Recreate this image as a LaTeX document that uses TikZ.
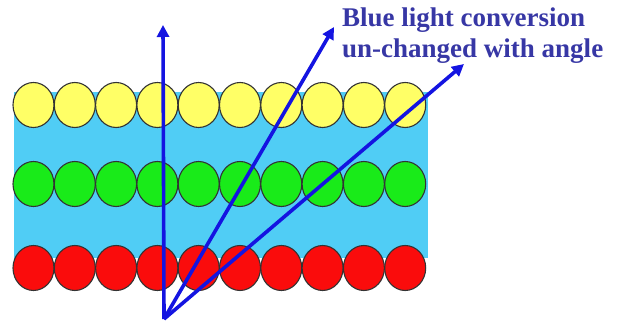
\documentclass[tikz,border=0pt]{standalone}
\usepackage{fontspec}
\setmainfont{Liberation Serif}
\usetikzlibrary{arrows.meta}
\definecolor{layercyan}{RGB}{80,205,245}
\definecolor{dotyellow}{RGB}{255,255,102}
\definecolor{dotgreen}{RGB}{25,235,25}
\definecolor{dotred}{RGB}{250,12,12}
\definecolor{raycolor}{RGB}{20,20,225}
\definecolor{labelcolor}{RGB}{55,55,165}
\tikzset{
  dot/.style={draw=black!80, line width=1.1pt, x radius=20.5, y radius=22.5},
  ray/.style={raycolor, line width=3.6pt, -{Triangle[length=12pt,width=12pt]}}
}

\begin{document}
\begin{tikzpicture}[x=1pt,y=-1pt]
            \useasboundingbox (0,0) rectangle (624,323);
            % Layer
            \fill[layercyan] (14,92) rectangle (428,258);

            % Dots
            \foreach \i in {0,...,9} {
              \filldraw[dot, fill=dotyellow] (33.5+41.3*\i,105) ellipse [];
              \filldraw[dot, fill=dotgreen] (33.5+41.3*\i,184) ellipse [];
              \filldraw[dot, fill=dotred] (33.5+41.3*\i,268) ellipse [];
            }

            % Arrows
            \coordinate (source) at (164,319);
            \coordinate (straight) at (163,25);
            \coordinate (steep) at (334,27);
            \coordinate (flat) at (464,64);
            \draw[ray] (source) -- (straight);
            \draw[ray] (source) -- (steep);
            \draw[ray] (source) -- (flat);

            % Label
            \node[anchor=base west, inner sep=0, align=left, text=labelcolor,
                  font=\bfseries\fontsize{27}{31}\selectfont] (caption) at (342,58)
                  {Blue light conversion\\un-changed with angle};
        \end{tikzpicture}
\end{document}
